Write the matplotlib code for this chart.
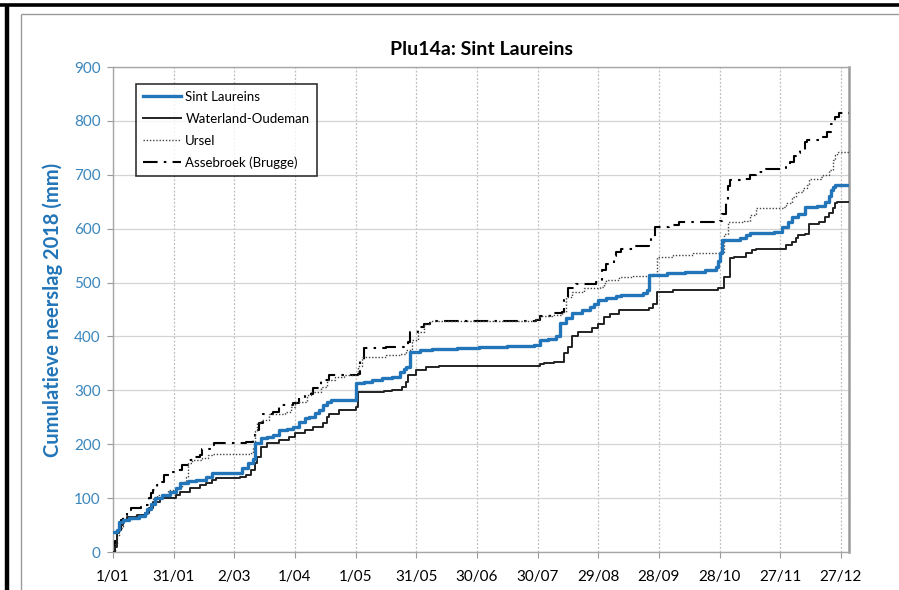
import matplotlib
matplotlib.use("Agg")
import matplotlib.pyplot as plt
from matplotlib.lines import Line2D

plt.rcParams["font.family"] = ["Lato", "DejaVu Sans"]

# dagnummer (0 = 1 januari) en cumulatieve neerslag (mm) op elk breekpunt
tick_days = [0, 30, 60, 90, 120, 150, 180, 210, 240, 270, 300, 330, 360]
tick_labels = ["1/01", "31/01", "2/03", "1/04", "1/05", "31/05", "30/06",
               "30/07", "29/08", "28/09", "28/10", "27/11", "27/12"]
y_ticks = [0, 100, 200, 300, 400, 500, 600, 700, 800, 900]

sl_days = [0, 2, 3, 5, 8, 13, 16, 17, 19, 21, 24, 28, 31, 33, 37, 41, 46, 49, 61, 64,
           67, 69, 70, 73, 76, 79, 82, 86, 89, 92, 95, 97, 100, 102, 104, 106, 108,
           120, 124, 128, 133, 138, 142, 144, 145, 147, 152, 158, 170, 181, 195, 208,
           211, 215, 219, 221, 224, 227, 232, 236, 238, 240, 244, 249, 251, 262, 264,
           265, 274, 283, 293, 298, 299, 300, 301, 310, 313, 315, 327, 331, 334, 336,
           339, 342, 348, 352, 354, 355, 356, 357, 364]
sl_vals = [38, 40, 55, 59, 63, 66, 72, 80, 90, 100, 106, 112, 119, 128, 131, 134, 140,
           146, 147, 155, 165, 172, 202, 211, 214, 217, 226, 229, 232, 242, 248, 251,
           258, 263, 272, 279, 282, 313, 316, 319, 322, 325, 334, 340, 344, 372, 375,
           377, 379, 381, 383, 385, 393, 396, 400, 425, 434, 443, 450, 455, 461, 467,
           471, 475, 477, 480, 486, 514, 517, 520, 523, 529, 540, 555, 579, 582, 588,
           592, 594, 604, 612, 622, 628, 640, 643, 650, 660, 671, 678, 681, 681]

wo_days = [0, 1, 2, 3, 5, 7, 12, 16, 18, 20, 23, 31, 33, 38, 43, 46, 49, 51, 63, 66,
           68, 70, 71, 73, 76, 82, 87, 90, 95, 99, 104, 106, 107, 112, 120, 121, 134,
           138, 143, 145, 146, 150, 155, 161, 211, 213, 218, 223, 225, 227, 230, 237,
           240, 243, 246, 250, 257, 265, 267, 269, 277, 283, 299, 302, 305, 307, 313,
           316, 318, 333, 336, 338, 339, 342, 344, 349, 352, 354, 356, 357, 358, 364]
wo_vals = [0, 10, 35, 50, 59, 65, 69, 73, 81, 93, 101, 106, 112, 118, 124, 128, 134,
           137, 139, 143, 152, 165, 177, 195, 202, 208, 214, 220, 226, 232, 239, 250,
           257, 263, 270, 297, 298, 300, 307, 316, 328, 338, 344, 346, 348, 350, 353,
           369, 381, 400, 409, 415, 424, 437, 442, 449, 450, 452, 461, 483, 486, 487,
           489, 511, 545, 548, 554, 560, 562, 570, 576, 582, 588, 591, 609, 613, 622,
           630, 638, 647, 650, 650]

ur_days = [0, 1, 2, 3, 5, 10, 16, 18, 20, 22, 27, 32, 34, 36, 37, 39, 44, 47, 49, 68,
           69, 70, 71, 73, 77, 85, 88, 90, 96, 98, 103, 106, 110, 114, 121, 123, 135,
           142, 145, 148, 151, 154, 157, 209, 211, 217, 222, 224, 227, 233, 241, 243,
           244, 250, 257, 267, 269, 277, 287, 300, 302, 304, 312, 315, 318, 332, 333,
           336, 338, 341, 343, 344, 350, 351, 354, 356, 357, 358, 364]
ur_vals = [0, 15, 30, 45, 62, 67, 72, 85, 98, 106, 115, 121, 130, 140, 165, 171, 174,
           180, 182, 183, 195, 225, 239, 245, 257, 260, 270, 279, 291, 297, 307, 319,
           325, 328, 345, 362, 365, 368, 375, 393, 409, 424, 429, 432, 438, 440, 446,
           473, 483, 489, 492, 500, 505, 510, 512, 515, 548, 551, 555, 557, 590, 613,
           614, 625, 638, 640, 647, 659, 668, 675, 681, 693, 695, 700, 709, 727, 737,
           742, 742]

ab_days = [0, 1, 2, 4, 5, 7, 9, 14, 16, 18, 19, 20, 22, 23, 25, 29, 31, 34, 37, 40,
           43, 44, 48, 50, 66, 69, 70, 72, 74, 79, 82, 89, 92, 95, 99, 103, 107, 121,
           122, 124, 135, 145, 146, 147, 151, 154, 157, 209, 211, 216, 222, 223, 225,
           229, 239, 242, 244, 248, 249, 251, 257, 265, 266, 268, 275, 280, 300, 301,
           303, 304, 305, 312, 315, 318, 323, 330, 333, 335, 337, 338, 340, 342, 343,
           349, 353, 355, 357, 359, 364]
ab_vals = [0, 20, 41, 60, 68, 78, 81, 84, 87, 100, 109, 115, 125, 130, 143, 148, 152,
           161, 170, 177, 180, 192, 199, 203, 205, 211, 226, 239, 257, 260, 273, 276,
           285, 294, 304, 319, 328, 330, 356, 378, 381, 383, 390, 409, 418, 424, 429,
           431, 438, 443, 446, 467, 489, 498, 501, 523, 535, 550, 557, 563, 568, 570,
           585, 604, 607, 613, 615, 628, 653, 680, 690, 693, 700, 706, 710, 712, 715,
           724, 735, 740, 746, 760, 764, 770, 780, 795, 807, 814, 814]

blue = "#2275B8"
tick_blue = "#3A86BD"

fig = plt.figure(figsize=(8.99, 5.90), dpi=100)
ax = fig.add_axes([0.1257, 0.0644, 0.8187, 0.822])

ax.step(ab_days, ab_vals, where="post", color="black", lw=1.5,
        dashes=(7, 3, 1.2, 3), label="Assebroek (Brugge)", zorder=3)
ax.step(ur_days, ur_vals, where="post", color="#444444", lw=1.0,
        linestyle=(0, (1, 1.3)), label="Ursel", zorder=3)
ax.step(wo_days, wo_vals, where="post", color="#222222", lw=1.4,
        label="Waterland-Oudeman", zorder=4)
ax.step(sl_days, sl_vals, where="post", color=blue, lw=2.4,
        label="Sint Laureins", zorder=5)

ax.set_xlim(0, 364)
ax.set_ylim(0, 900)
ax.set_xticks(tick_days)
ax.set_xticklabels(tick_labels, fontsize=11)
ax.set_yticks(y_ticks)
ax.set_yticklabels([str(v) for v in y_ticks], fontsize=11, color=tick_blue)
ax.tick_params(axis="both", direction="out", length=4, color="#999999")
ax.tick_params(axis="x", pad=9)
ax.tick_params(axis="y", pad=5)

ax.yaxis.grid(True, color="#d4d4d4", lw=0.9, linestyle="-")
ax.xaxis.grid(True, color="#bdbdbd", lw=0.9, linestyle=(0, (1.5, 1.5)))
ax.set_axisbelow(True)
for side in ["left", "bottom", "top"]:
    ax.spines[side].set_color("#a6a6a6")
    ax.spines[side].set_linewidth(1.0)
ax.spines["right"].set_color("#9a9a9a")
ax.spines["right"].set_linewidth(1.8)

ax.set_title("Plu14a: Sint Laureins", fontsize=14, fontweight="bold", pad=9)
ax.set_ylabel("Cumulatieve neerslag 2018 (mm)", fontsize=14.5, fontweight="bold",
              color=blue, labelpad=8)

handles, labels = ax.get_legend_handles_labels()
order = [3, 2, 1, 0]
leg = ax.legend([handles[i] for i in order], [labels[i] for i in order],
                loc="upper left", bbox_to_anchor=(0.031, 0.966), fontsize=9.5,
                frameon=True, fancybox=False, edgecolor="black",
                handlelength=2.9, handletextpad=0.3, borderpad=0.55,
                labelspacing=0.75, borderaxespad=0)
leg.get_frame().set_linewidth(1.2)

# rand van de schermafbeelding en het grafiekgebied
fig.add_artist(Line2D([0.0, 1.0], [0.9915, 0.9915], transform=fig.transFigure,
                      color="black", lw=2.6, solid_capstyle="butt"))
fig.add_artist(Line2D([0.0078, 0.0078], [0.0, 0.9915], transform=fig.transFigure,
                      color="black", lw=3.2, solid_capstyle="butt"))
fig.add_artist(Line2D([0.0234, 1.0], [0.9763, 0.9763], transform=fig.transFigure,
                      color="#9a9a9a", lw=1.0, solid_capstyle="butt"))
fig.add_artist(Line2D([0.0234, 0.0234], [0.0, 0.9763], transform=fig.transFigure,
                      color="#9a9a9a", lw=1.0, solid_capstyle="butt"))

fig.savefig("out.png", dpi=100)
